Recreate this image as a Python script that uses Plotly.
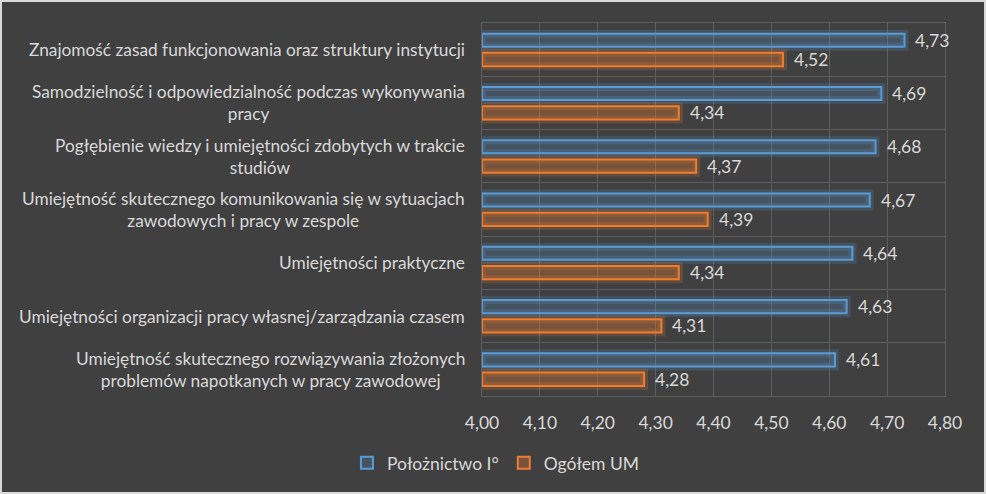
import plotly.graph_objects as go

categories = [
    "Znajomość zasad funkcjonowania oraz struktury instytucji",
    "Samodzielność i odpowiedzialność podczas wykonywania<br>pracy",
    "Pogłębienie wiedzy i umiejętności zdobytych w trakcie<br>studiów",
    "Umiejętność skutecznego komunikowania się w sytuacjach<br>zawodowych i pracy w zespole",
    "Umiejętności praktyczne",
    "Umiejętności organizacji pracy własnej/zarządzania czasem",
    "Umiejętność skutecznego rozwiązywania złożonych<br>problemów napotkanych w pracy zawodowej",
]
polozn = [4.73, 4.69, 4.68, 4.67, 4.64, 4.63, 4.61]
ogolem = [4.52, 4.34, 4.37, 4.39, 4.34, 4.31, 4.28]
series_names = ["Położnictwo I°", "Ogółem UM"]
x_min, x_max = 4.0, 4.8

BG = "#404040"
TXT = "#d9d9d9"
GRID = "#5e5e5e"
FONT = "Lato"

W, H = 986, 494
ml, mr, mt, mb = 482, 41, 23, 98

ypos = list(range(len(categories)))

fig = go.Figure()

def fmt(v):
    return f"{v:.2f}".replace(".", ",")

specs = [
    (series_names[0], polozn, "91,155,213", -0.30, 0.245, 0.22),
    (series_names[1], ogolem, "237,125,49", 0.06, 0.25, 0.32),
]
# glow layers
for name, vals, rgb, off, wid, alpha in specs:
    fig.add_trace(go.Bar(
        y=ypos, x=[v - x_min for v in vals], base=x_min, orientation="h",
        offset=off, width=wid,
        marker=dict(color="rgba(0,0,0,0)", line=dict(color=f"rgba({rgb},0.2)", width=8)),
        showlegend=False, hoverinfo="skip",
    ))
for name, vals, rgb, off, wid, alpha in specs:
    fig.add_trace(go.Bar(
        name=name,
        y=ypos, x=[v - x_min for v in vals], base=x_min, orientation="h",
        offset=off, width=wid,
        marker=dict(color=f"rgba({rgb},{alpha})", line=dict(color=f"rgb({rgb})", width=2)),
        hovertemplate="%{text}<extra></extra>",
        text=[fmt(v) for v in vals], textposition="none",
    ))
    # data labels
    for i, v in zip(ypos, vals):
        fig.add_annotation(
            x=v, xref="x", y=i + off + wid / 2, yref="y", text=fmt(v),
            showarrow=False, xanchor="left", xshift=9,
            font=dict(color=TXT, size=17.5, family=FONT),
        )

for i, c in enumerate(categories):
    fig.add_annotation(
        x=0, xref="paper", y=i, yref="y", text=c, showarrow=False,
        xanchor="right", align="center", xshift=-15,
        font=dict(color=TXT, size=17.3, family=FONT),
    )

fig.update_layout(
    width=W, height=H,
    margin=dict(l=ml, r=mr, t=mt, b=mb),
    paper_bgcolor=BG, plot_bgcolor=BG,
    barmode="overlay",
    separators=", ",
    font=dict(family=FONT, color=TXT, size=17),
    legend=dict(
        orientation="h", xref="container", yref="container",
        x=0.503, y=0.063, xanchor="center", yanchor="middle",
        font=dict(color=TXT, size=17.5, family=FONT), bgcolor="rgba(0,0,0,0)",
    ),
    xaxis=dict(
        range=[x_min, x_max], dtick=0.1, tick0=x_min, tickformat=".2f",
        gridcolor=GRID, gridwidth=1, showline=True, linecolor=GRID, mirror=True,
        zeroline=False, ticks="", ticklabelstandoff=11,
        tickfont=dict(color=TXT, size=17.5, family=FONT),
        fixedrange=True,
    ),
    yaxis=dict(
        range=[len(categories) - 0.5, -0.5],
        tickvals=[k - 0.5 for k in range(len(categories) + 1)],
        showticklabels=False, gridcolor=GRID, gridwidth=1, zeroline=False,
        showline=True, linecolor=GRID, mirror=True, ticks="", fixedrange=True,
    ),
    shapes=[dict(
        type="rect", xref="paper", yref="paper",
        x0=-(ml - 1) / (W - ml - mr), x1=1 + (mr - 1) / (W - ml - mr),
        y0=-(mb - 1) / (H - mt - mb), y1=1 + (mt - 1) / (H - mt - mb),
        line=dict(color="#d9d9d9", width=2), fillcolor="rgba(0,0,0,0)", layer="above",
    )],
)

fig.write_html(
    "out.html",
    config={"displayModeBar": False},
    post_script="document.body.style.margin='0';document.body.style.padding='0';",
)
